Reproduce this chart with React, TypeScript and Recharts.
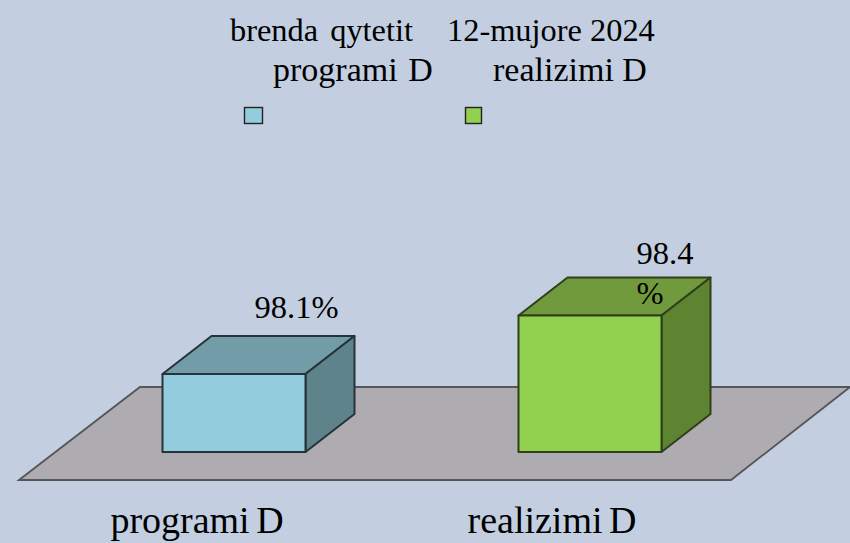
import { Bar, BarChart, LabelList, Legend, ReferenceArea, XAxis, YAxis } from "recharts";

const CATEGORIES = ["programi D", "realizimi D"];
const VALUES = [98.1, 98.4];
const VALUE_LINES = [["98.1%"], ["98.4", "%"]];
const TITLE = ["brenda qytetit", "12-mujore 2024"];

const FONT = "'Liberation Serif', serif";
const BG = "#c3cfe0";
const FRONT = ["#93cddd", "#92d050"];
const TOP = ["#729ca8", "#719a3c"];
const SIDE = ["#5f838b", "#5f8431"];
const EDGE = ["#253438", "#2f3f1c"];
const DEPTH_X = 49;
const DEPTH_Y = 38;

const data = CATEGORIES.map((name, i) => ({ name, value: VALUES[i], idx: i }));

function Box(props: any) {
  const { x, y, width, height, payload } = props;
  const i = payload.idx;
  const r = x + width;
  const b = y + height;
  return (
    <g stroke={EDGE[i]} strokeWidth={2} strokeLinejoin="round">
      <polygon points={`${x},${y} ${x + DEPTH_X},${y - DEPTH_Y} ${r + DEPTH_X},${y - DEPTH_Y} ${r},${y}`} fill={TOP[i]} />
      <polygon points={`${r},${y} ${r + DEPTH_X},${y - DEPTH_Y} ${r + DEPTH_X},${b - DEPTH_Y} ${r},${b}`} fill={SIDE[i]} />
      <rect x={x} y={y} width={width} height={height} fill={FRONT[i]} />
    </g>
  );
}

// floor plate sits around the plot box
function Floor(props: any) {
  const { x, y, width, height } = props;
  const bottom = y + height;
  const pts = [
    [x - 36.5, bottom + 28],
    [x + 84.5, bottom - 65],
    [x + width + 82.5, bottom - 65],
    [x + width - 36.5, bottom + 28],
  ];
  return <polygon points={pts.map((p) => p.join(",")).join(" ")} fill="#aeabb1" stroke="#55565a" strokeWidth={1.8} />;
}

function CategoryTick(props: any) {
  const { x, y, payload, index } = props;
  return (
    <text x={x - 36.5 - (index === 1 ? 1 : 0)} y={y + 73} textAnchor="middle" fontFamily={FONT} fontSize={38} wordSpacing={-3} fill="#000">
      {payload.value}
    </text>
  );
}

function ValueLabel(props: any) {
  const { x, y, index } = props;
  const lines = VALUE_LINES[index];
  const left = index === 0 ? x + 92 : x + 118;
  const base = index === 0 ? y - 56 : y - 52;
  return (
    <text fontFamily={FONT} fontSize={32.5} fill="#000">
      {lines.map((line, k) => (
        <tspan key={k} x={left} y={base + k * 40}>
          {line}
        </tspan>
      ))}
    </text>
  );
}

function TitleLegend() {
  const swatches = [
    { x: 244.5, w: 18 },
    { x: 465.5, w: 16 },
  ];
  return (
    <svg width={850} height={130} style={{ display: "block" }}>
      <g fontFamily={FONT} fill="#000">
        <text x={230} y={41} fontSize={32.4} wordSpacing={4}>{TITLE[0]}</text>
        <text x={447} y={41} fontSize={32.4}>{TITLE[1]}</text>
        <text x={273} y={81} fontSize={34} wordSpacing={2}>{CATEGORIES[0]}</text>
        <text x={493} y={81} fontSize={34} wordSpacing={0}>{CATEGORIES[1]}</text>
      </g>
      {swatches.map((s, i) => (
        <rect key={i} x={s.x} y={107.5} width={s.w} height={16} fill={FRONT[i]} stroke="#222" strokeWidth={1.4} />
      ))}
    </svg>
  );
}

export default function App() {
  return (
    <div style={{ position: "fixed", left: 0, top: 0, width: 850, height: 543, background: BG, overflow: "hidden" }}>
      <BarChart width={850} height={543} data={data} margin={{ top: 296, right: 82.5, bottom: 0, left: 55.5 }}>
        <XAxis dataKey="name" axisLine={false} tickLine={false} tick={<CategoryTick />} interval={0} height={91} />
        <YAxis hide domain={[97.7, 98.5]} />
        <ReferenceArea y1={97.7} y2={98.5} shape={<Floor />} fillOpacity={1} />
        <Legend
          layout="horizontal"
          verticalAlign="middle"
          align="center"
          content={<TitleLegend />}
          wrapperStyle={{ left: 0, top: 0, width: 850 }}
        />
        <Bar dataKey="value" barSize={143} shape={<Box />} isAnimationActive={false}>
          <LabelList dataKey="value" content={<ValueLabel />} />
        </Bar>
      </BarChart>
    </div>
  );
}
